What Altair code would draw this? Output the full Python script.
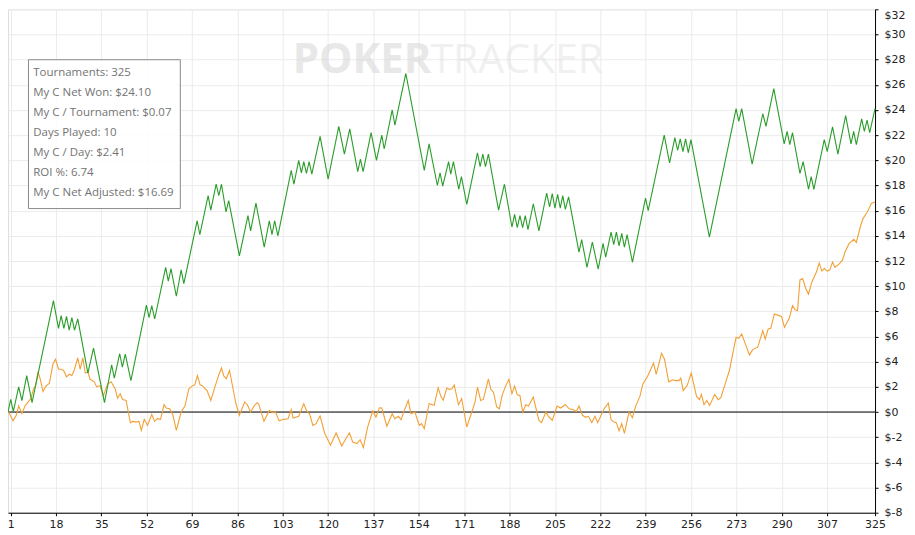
import altair as alt
import pandas as pd

# ---- data ----
# "My C Net Won" (green) : cumulative $ at the line's vertices (tournament #, $)
net_t = [0.5, 1.5, 2.5, 4.5, 5.7, 7.5, 9.5, 17.5, 19.4, 20.4,
         21.4, 22.4, 23.4, 24.4, 25.4, 26.6, 30.4, 32.5, 36.6, 39.3,
         40.3, 42.3, 43.3, 44.4, 46.5, 52.3, 53.3, 54.3, 55.4, 59.5,
         60.5, 61.5, 63.5, 65.3, 66.3, 71.3, 72.3, 75.4, 76.4, 78.4,
         79.4, 80.4, 82.1, 83.1, 87.1, 90.3, 91.3, 93.3, 96.4, 98.3,
         99.3, 100.3, 101.5, 106.5, 107.5, 109.3, 110.3, 111.2, 112.2, 113.2,
         114.2, 117.3, 120.3, 124.3, 126.4, 128.4, 131.4, 132.4, 133.4, 136.4,
         138.4, 140.4, 141.3, 144.3, 145.3, 149.4, 156.3, 158.1, 161.2, 162.2,
         163.2, 165.4, 166.2, 167.2, 169.2, 170.2, 172.2, 176.2, 177.2, 178.2,
         179.2, 180.3, 184.1, 186.3, 189.1, 190.1, 191.1, 192.1, 193.1, 194.1,
         195.1, 197.1, 199.2, 202.1, 203.2, 204.2, 205.2, 206.2, 207.2, 208.1,
         209.1, 210.3, 214.2, 215.2, 217.2, 219.2, 221.4, 223.2, 224.2, 226.2,
         227.2, 228.2, 229.2, 230.2, 231.2, 232.2, 234.2, 239.1, 240.1, 246.1,
         248.1, 250.1, 251.1, 252.1, 253.1, 254.1, 255.1, 256.1, 263.0, 273.0,
         274.0, 275.1, 279.0, 283.0, 284.2, 287.1, 291.0, 292.1, 293.1, 294.1,
         296.9, 298.1, 300.1, 301.1, 302.1, 306.0, 307.1, 309.1, 311.1, 314.0,
         316.0, 317.0, 318.0, 320.0, 321.0, 322.0, 323.0, 325.0]
net_v = [0.0, 1.0, 0.05, 2.0, 0.9, 2.9, 0.74, 8.85, 6.65, 7.66,
         6.65, 7.6, 6.5, 7.5, 6.5, 7.4, 3.1, 5.07, 0.74, 3.75,
         2.7, 4.65, 3.56, 4.6, 2.5, 8.5, 7.5, 8.45, 7.4, 11.5,
         10.4, 11.4, 9.2, 11.3, 10.2, 15.2, 14.1, 17.2, 16.05, 18.1,
         17.2, 18.1, 15.9, 16.8, 12.4, 15.6, 14.4, 16.6, 13.1, 15.2,
         14.1, 15.2, 14.0, 19.2, 18.1, 20.0, 19.0, 19.9, 18.96, 19.9,
         18.9, 21.9, 18.5, 22.7, 20.5, 22.5, 19.1, 20.1, 19.1, 22.2,
         20.0, 22.0, 20.9, 24.0, 22.8, 26.9, 19.2, 21.3, 18.0, 19.0,
         17.95, 19.9, 18.9, 19.9, 17.7, 18.7, 16.5, 20.6, 19.5, 20.5,
         19.5, 20.5, 16.05, 18.1, 14.7, 15.7, 14.65, 15.6, 14.65, 15.6,
         14.5, 16.55, 14.4, 17.4, 16.3, 17.35, 16.2, 17.3, 16.2, 17.2,
         16.1, 17.1, 12.7, 13.7, 11.5, 13.5, 11.35, 13.4, 12.3, 14.3,
         13.3, 14.3, 13.2, 14.2, 13.1, 14.1, 11.9, 17.0, 16.0, 22.0,
         19.8, 21.8, 20.8, 21.7, 20.7, 21.7, 20.6, 21.65, 13.9, 24.1,
         23.1, 24.1, 19.7, 23.7, 22.7, 25.7, 21.3, 22.3, 21.25, 22.2,
         18.96, 19.9, 17.7, 18.7, 17.7, 21.65, 20.7, 22.65, 20.5, 23.55,
         21.3, 22.3, 21.25, 23.3, 22.3, 23.2, 22.2, 24.1]

# "My C Net Adjusted" (orange) : (tournament #, $)
adj_points = [
    (0.5, 0.1), (2.4, -0.7), (3.6, -0.26), (4.5, 0.48), (5.7, -0.13), (7.0, 0.53),
    (8.2, 0.85), (9.0, 1.05), (10.1, 1.85), (10.8, 2.1), (11.7, 3.2), (12.6, 2.6),
    (13.6, 1.64), (14.7, 2.06), (16.0, 2.3), (17.3, 3.8), (18.3, 4.2), (19.4, 3.4),
    (20.4, 3.4), (21.3, 3.3), (22.4, 2.8), (23.5, 3.0), (24.4, 2.9), (25.4, 3.4),
    (26.6, 4.3), (27.5, 3.4), (28.5, 4.3), (29.4, 3.1), (30.4, 3.2), (31.2, 2.6),
    (32.8, 2.4), (33.7, 2.0), (34.9, 2.1), (36.2, 1.3), (37.8, 2.24), (39.1, 2.4),
    (40.6, 1.85), (41.5, 1.1), (42.5, 1.45), (43.4, 1.0), (44.7, 0.92), (46.3, -0.85),
    (47.1, -0.74), (48.4, -0.8), (49.5, -0.74), (50.4, -1.45), (51.5, -0.58), (52.7, -1.06),
    (54.3, -0.2), (55.4, -0.74), (56.4, -0.53), (57.6, -0.58), (58.9, 0.58), (59.7, 0.32),
    (61.0, 0.26), (62.2, -0.24), (63.5, -1.45), (65.3, 0.0), (66.7, 0.48), (68.2, 1.85),
    (69.4, 2.06), (70.4, 2.16), (71.4, 2.9), (72.4, 2.16), (73.4, 2.06), (75.0, 1.7),
    (76.4, 0.92), (78.1, 2.1), (79.4, 2.96), (80.4, 3.5), (81.3, 2.85), (82.2, 2.64),
    (83.4, 3.3), (85.8, 0.66), (87.1, -0.26), (89.1, 0.8), (90.1, 0.58), (91.3, 0.0),
    (92.6, 0.48), (93.7, 0.74), (94.3, 0.66), (96.3, -0.74), (98.3, 0.13), (99.5, -0.05),
    (100.5, 0.05), (102.0, -0.7), (103.6, -0.58), (105.3, -0.53), (106.5, 0.2), (107.2, -0.48),
    (109.3, -0.34), (111.2, 0.66), (112.2, 0.13), (113.4, -0.18), (114.6, -1.06), (115.8, -0.92),
    (117.3, -0.32), (119.0, -1.66), (121.2, -2.64), (123.3, -1.66), (125.4, -2.7), (127.0, -2.1),
    (128.3, -1.66), (129.5, -2.38), (131.1, -2.5), (132.3, -2.2), (133.5, -2.83), (135.1, -1.19),
    (137.0, 0.08), (138.2, -0.4), (139.5, 0.34), (140.4, 0.32), (142.3, -1.13), (144.3, -0.13),
    (145.3, -0.53), (146.6, -0.34), (147.6, -0.6), (148.8, 0.13), (150.3, 0.92), (151.3, -0.13),
    (152.8, 0.0), (154.4, -1.06), (155.3, -0.92), (156.3, -1.32), (158.1, 0.66), (160.0, 0.53),
    (161.5, 1.93), (162.5, 1.25), (163.4, 0.95), (164.7, 1.9), (165.7, 1.8), (166.6, 1.85),
    (167.5, 2.16), (169.1, 0.58), (170.3, 1.06), (172.2, -1.19), (174.1, 0.0), (175.3, 0.8),
    (176.2, 1.98), (177.4, 0.92), (178.4, 1.0), (180.3, 2.64), (181.2, 1.8), (182.2, 1.58),
    (183.4, 0.4), (184.4, 0.26), (185.5, 1.37), (186.8, 2.1), (188.0, 2.6), (189.1, 1.45),
    (190.1, 2.06), (191.1, 1.37), (192.1, 1.32), (193.1, 0.0), (194.3, 0.58), (195.3, 0.48),
    (197.1, 1.19), (199.2, -0.66), (200.2, -0.84), (201.8, 0.0), (202.7, -0.32), (204.2, -0.66),
    (206.0, 0.48), (207.3, 0.32), (209.1, 0.6), (210.5, 0.26), (212.0, 0.2), (213.2, 0.05),
    (214.2, 0.48), (215.5, -0.26), (216.7, -0.42), (217.7, -0.34), (219.0, -0.84), (220.2, -0.34),
    (221.2, -0.84), (222.3, -0.34), (223.6, 0.26), (225.2, 0.71), (226.2, -0.6), (227.3, -0.8),
    (228.2, -0.84), (229.2, -1.5), (230.2, -0.92), (231.2, -1.7), (232.9, 0.0), (234.2, -0.45),
    (235.4, 0.45), (237.0, 1.24), (238.1, 2.24), (239.8, 2.8), (242.1, 3.9), (243.1, 3.0),
    (245.1, 4.67), (246.2, 4.2), (247.8, 2.4), (249.3, 2.56), (250.3, 2.5), (251.6, 2.5),
    (252.3, 2.7), (253.2, 1.7), (254.7, 2.1), (256.2, 3.1), (258.2, 1.24), (259.3, 0.98),
    (260.0, 1.4), (261.0, 0.58), (262.0, 0.92), (263.1, 0.53), (265.0, 1.4), (266.3, 0.98),
    (267.3, 1.14), (269.0, 2.3), (270.5, 3.3), (271.7, 4.6), (273.0, 5.94), (274.0, 5.86),
    (275.1, 6.2), (276.7, 5.28), (278.0, 4.54), (279.2, 4.96), (281.1, 5.15), (283.0, 6.47),
    (283.9, 5.8), (285.0, 6.6), (286.0, 6.65), (287.3, 7.8), (288.5, 7.7), (290.0, 7.6),
    (291.1, 6.73), (292.9, 7.45), (294.1, 8.45), (295.1, 8.13), (296.0, 8.05), (296.9, 10.5),
    (297.9, 10.6), (299.1, 9.8), (300.1, 9.37), (301.3, 10.3), (303.1, 11.14), (304.1, 11.83),
    (305.1, 11.2), (306.0, 11.4), (307.2, 11.2), (308.1, 11.3), (309.1, 11.93), (310.0, 11.5),
    (311.5, 11.75), (312.8, 12.07), (313.8, 12.73), (315.3, 13.4), (317.1, 13.73), (318.0, 13.47),
    (319.6, 14.8), (320.5, 15.37), (322.1, 15.9), (323.7, 16.6), (325.0, 16.69),
]

x_ticks = [1, 18, 35, 52, 69, 86, 103, 120, 137, 154, 171, 188, 205, 222, 239,
           256, 273, 290, 307, 325]
y_ticks = list(range(-8, 33, 2))

stats_lines = [
    "Tournaments: 325",
    "My C Net Won: $24.10",
    "My C / Tournament: $0.07",
    "Days Played: 10",
    "My C / Day: $2.41",
    "ROI %: 6.74",
    "My C Net Adjusted: $16.69",
]

GREEN = "#2a9d2a"
ORANGE = "#f2a035"
GRID = "#ebebeb"


def cal(t):
    # reading calibration: positions were read with tournament 1 at the left edge
    return (t - 0.5) * 325.0 / 324.5


net = pd.DataFrame({"t": [cal(t) for t in net_t], "v": net_v})
adj = pd.DataFrame({"t": [cal(p[0]) for p in adj_points], "v": [p[1] for p in adj_points]})
one = pd.DataFrame({"a": [0]})
zero = pd.DataFrame({"v": [0]})

xscale = alt.Scale(domain=[0, 325], nice=False, zero=False)
yscale = alt.Scale(domain=[-8, 32], nice=False, zero=False)

xaxis = alt.Axis(values=x_ticks, title=None, grid=True, gridColor=GRID,
                 domainColor="black", tickColor="black", tickSize=3,
                 labelPadding=3, labelFont="DejaVu Sans", labelFontSize=11,
                 labelColor="#222222", labelFlush=False, labelOverlap=False)
yaxis = alt.Axis(orient="right", values=y_ticks, labelExpr="'$' + datum.value",
                 title=None, grid=True, gridColor=GRID,
                 domainColor="black", tickColor="black", tickSize=3,
                 labelPadding=6, labelFont="DejaVu Sans", labelFontSize=11,
                 labelColor="#222222", labelOverlap=False,
                 labelBaseline={"condition": {"test": "datum.value == 32", "value": "top"},
                                "value": "middle"})

mark_poker = alt.Chart(one).mark_text(
    text="POKER", font="Open Sans", fontWeight="bold", fontSize=42,
    color="#d6d6d6", opacity=0.55, align="left", baseline="alphabetic"
).encode(x=alt.value(285), y=alt.value(64))

mark_tracker = alt.Chart(one).mark_text(
    text="TRACKER", font="Open Sans", fontWeight="normal", fontSize=41,
    color="#dedede", opacity=0.45, align="left", baseline="alphabetic"
).encode(x=alt.value(423), y=alt.value(64))

zero_rule = alt.Chart(zero).mark_rule(color="black", strokeWidth=1).encode(
    y=alt.Y("v:Q", scale=yscale, axis=yaxis)
)

adj_line = alt.Chart(adj).mark_line(color=ORANGE, strokeWidth=1.1).encode(
    x=alt.X("t:Q", scale=xscale, axis=xaxis),
    y=alt.Y("v:Q", scale=yscale, axis=yaxis),
    order="t:Q",
)

net_line = alt.Chart(net).mark_line(color=GREEN, strokeWidth=1.1).encode(
    x=alt.X("t:Q", scale=xscale, axis=xaxis),
    y=alt.Y("v:Q", scale=yscale, axis=yaxis),
    order="t:Q",
)

box = alt.Chart(one).mark_rect(fill="white", fillOpacity=0.85, stroke="#8a8a8a",
                               strokeWidth=1).encode(
    x=alt.value(20.5), x2=alt.value(172.5), y=alt.value(50.5), y2=alt.value(199.5)
)

stats = alt.Chart(one).mark_text(
    align="left", baseline="alphabetic", font="Open Sans", fontSize=11.5,
    color="#737373", lineHeight=20
).encode(x=alt.value(25.3), y=alt.value(67), text=alt.value(stats_lines))

chart = alt.layer(
    mark_poker, mark_tracker, zero_rule, adj_line, net_line, box, stats
).properties(
    width=868, height=504,
    padding={"left": 0, "top": 1, "right": 32, "bottom": 19},
    autosize=alt.AutoSizeParams(type="none"),
).configure_view(
    stroke="black", strokeWidth=1
).configure(background="white")

chart.save("out.html", embed_options={"renderer": "svg", "actions": False})
